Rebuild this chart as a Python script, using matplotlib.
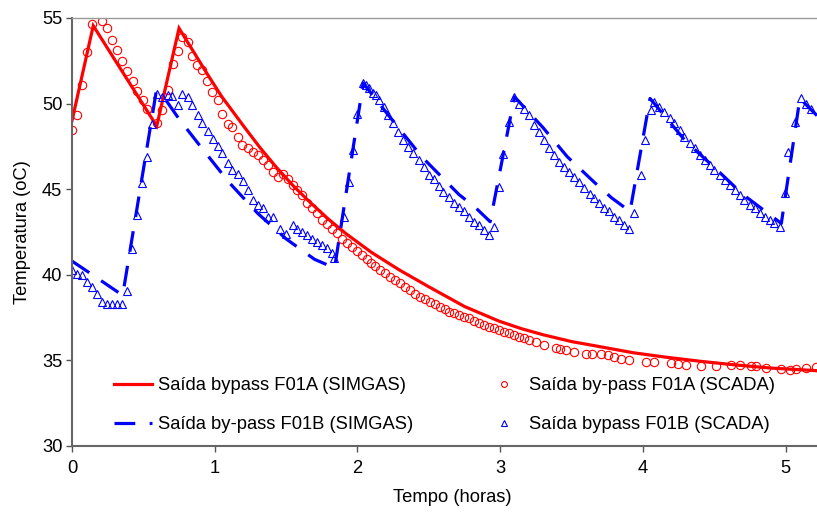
import matplotlib
matplotlib.use("Agg")
import matplotlib.pyplot as plt

plt.rcParams['font.family'] = ['Liberation Sans', 'DejaVu Sans']

# Saída bypass F01A - simulação (SIMGAS)
t_a_sim = [0.0, 0.149, 0.57, 0.594, 0.75, 0.85, 0.95, 1.05, 1.21, 1.32, 1.43, 1.55, 1.66,
           1.79, 1.92, 2.1, 2.29, 2.5, 2.75, 2.99, 3.15, 3.3, 3.5, 3.7, 3.93, 4.15, 4.4,
           4.63, 4.9, 5.22]
T_a_sim = [49.0, 54.55, 49.0, 48.7, 54.4, 53.05, 51.7, 50.4, 48.6, 47.4, 46.3, 45.2, 44.3,
           43.3, 42.4, 41.3, 40.3, 39.3, 38.15, 37.3, 36.85, 36.5, 36.1, 35.8, 35.45, 35.2, 34.95,
           34.75, 34.55, 34.4]

# Saída by-pass F01A - medido (SCADA)
t_a_scada = [0.0, 0.037, 0.068, 0.105, 0.138, 0.208, 0.243, 0.283, 0.318, 0.353, 0.386,
             0.425, 0.454, 0.496, 0.524, 0.594, 0.63, 0.67, 0.706, 0.74, 0.77, 0.81, 0.84,
             0.875, 0.91, 0.945, 0.98, 1.02, 1.054, 1.09, 1.12, 1.16, 1.19, 1.23, 1.265,
             1.30, 1.335, 1.37, 1.405, 1.44, 1.475, 1.51, 1.545, 1.58, 1.615, 1.65, 1.685,
             1.72, 1.755, 1.79, 1.825, 1.86, 1.895, 1.93, 1.965, 2.0, 2.035, 2.065, 2.095,
             2.125, 2.155, 2.19, 2.225, 2.26, 2.295, 2.33, 2.365, 2.4, 2.435, 2.47, 2.505,
             2.54, 2.575, 2.61, 2.645, 2.68, 2.715, 2.75, 2.785, 2.82, 2.855, 2.89, 2.925,
             2.96, 2.995, 3.03, 3.065, 3.1, 3.135, 3.17, 3.205, 3.25, 3.31, 3.39, 3.42,
             3.46, 3.52, 3.6, 3.64, 3.71, 3.755, 3.8, 3.85, 3.906, 4.02, 4.08, 4.2, 4.245,
             4.3, 4.41, 4.51, 4.62, 4.68, 4.76, 4.79, 4.86, 4.97, 5.03, 5.07, 5.14, 5.21]
T_a_scada = [48.46, 49.35, 51.1, 53.0, 54.65, 54.85, 54.4, 53.7, 53.15, 52.5, 51.9,
             51.3, 50.75, 50.2, 49.7, 48.85, 49.6, 50.8, 52.3, 53.1, 53.9, 53.6, 52.8,
             52.25, 51.96, 51.3, 50.7, 50.2, 49.4, 48.8, 48.65, 48.07, 47.6, 47.4, 47.2,
             47.0, 46.7, 46.4, 46.0, 45.7, 45.9, 45.6, 45.25, 44.95, 44.66, 44.2, 43.9,
             43.6, 43.2, 42.97, 42.7, 42.46, 42.1, 41.85, 41.6, 41.4, 41.15, 40.9, 40.7,
             40.5, 40.3, 40.1, 39.9, 39.7, 39.5, 39.3, 39.1, 38.9, 38.72, 38.58, 38.43,
             38.28, 38.14, 38.0, 37.85, 37.75, 37.65, 37.55, 37.46, 37.3, 37.17, 37.07, 36.97,
             36.88, 36.78, 36.68, 36.58, 36.48, 36.38, 36.3, 36.2, 36.05, 35.9, 35.7, 35.65,
             35.6, 35.5, 35.4, 35.4, 35.35, 35.3, 35.2, 35.1, 35.0, 34.93, 34.9, 34.83, 34.79,
             34.73, 34.67, 34.67, 34.73, 34.73, 34.7, 34.67, 34.54, 34.48, 34.44, 34.48, 34.57, 34.63]

# Saída by-pass F01B - simulação (SIMGAS)
t_b_sim = [0.0, 0.143, 0.355, 0.59, 0.65, 0.75, 0.9, 1.1, 1.3, 1.5, 1.7, 1.84,
           2.04, 2.2, 2.45, 2.71, 2.83, 2.93, 3.1, 3.3, 3.47, 3.66, 3.78, 3.91,
           4.05, 4.3, 4.51, 4.7, 4.97, 5.1, 5.22]
T_b_sim = [40.8, 40.0, 38.8, 50.7, 50.3, 49.1, 47.5, 45.4, 43.6, 42.1, 40.9, 40.4,
           51.2, 49.5, 46.9, 44.7, 43.9, 43.1, 50.4, 48.6, 46.9, 45.4, 44.5, 43.7,
           50.3, 47.8, 46.2, 44.7, 43.0, 50.3, 49.3]

# Saída bypass F01B - medido (SCADA)
t_b_scada = [0.0, 0.033, 0.068, 0.103, 0.138, 0.178, 0.213, 0.243, 0.278, 0.313, 0.353,
             0.383, 0.423, 0.454, 0.493, 0.528, 0.563, 0.594, 0.63, 0.67, 0.7, 0.74, 0.774,
             0.81, 0.844, 0.88, 0.914, 0.95, 0.987, 1.02, 1.054, 1.09, 1.124, 1.16, 1.195,
             1.23, 1.265, 1.3, 1.335, 1.37, 1.41, 1.46, 1.5, 1.545, 1.58, 1.615, 1.65, 1.685,
             1.72, 1.755, 1.79, 1.825, 1.837, 1.907, 1.94, 1.97, 2.0, 2.036, 2.06, 2.083,
             2.106, 2.13, 2.153, 2.183, 2.216, 2.25, 2.286, 2.32, 2.356, 2.39, 2.43, 2.464,
             2.5, 2.534, 2.57, 2.6, 2.64, 2.674, 2.71, 2.744, 2.78, 2.814, 2.85, 2.884, 2.924,
             2.96, 2.99, 3.022, 3.065, 3.1, 3.135, 3.17, 3.205, 3.24, 3.275, 3.31, 3.345,
             3.38, 3.415, 3.45, 3.485, 3.52, 3.555, 3.59, 3.626, 3.66, 3.696, 3.73, 3.766,
             3.8, 3.836, 3.87, 3.906, 3.94, 3.988, 4.015, 4.058, 4.08, 4.116, 4.15, 4.187,
             4.22, 4.257, 4.29, 4.327, 4.362, 4.397, 4.432, 4.467, 4.5, 4.537, 4.572, 4.607,
             4.642, 4.677, 4.712, 4.748, 4.783, 4.818, 4.853, 4.888, 4.92, 4.958, 4.993,
             5.016, 5.063, 5.11, 5.14, 5.18]
T_b_scada = [40.28, 40.05, 40.0, 39.6, 39.3, 38.9, 38.43, 38.3, 38.3, 38.3, 38.3,
             39.05, 41.5, 43.5, 45.35, 46.86, 48.8, 50.56, 50.4, 50.5, 50.46, 49.94, 50.56,
             50.4, 49.94, 49.35, 48.87, 48.4, 47.93, 47.55, 47.1, 46.55, 46.1, 45.9, 45.5,
             44.95, 44.37, 44.08, 43.9, 43.4, 43.4, 42.7, 42.4, 42.9, 42.7, 42.5, 42.3, 42.1,
             41.9, 41.74, 41.55, 41.26, 40.96, 43.4, 45.4, 47.3, 49.4, 51.2, 51.1, 50.9,
             50.6, 50.5, 50.2, 49.8, 49.33, 48.85, 48.36, 47.87, 47.45, 47.1, 46.7, 46.28,
             45.83, 45.58, 45.2, 44.85, 44.53, 44.2, 43.94, 43.7, 43.4, 43.1, 42.9, 42.6, 42.3,
             42.8, 45.1, 47.04, 48.94, 50.4, 50.0, 49.67, 49.33, 48.75, 48.36, 47.87, 47.39,
             47.0, 46.6, 46.3, 46.0, 45.73, 45.44, 45.05, 44.7, 44.47, 44.18, 43.88, 43.7,
             43.4, 43.2, 42.9, 42.66, 43.6, 45.85, 47.87, 49.6, 50.1, 49.82, 49.53, 49.14,
             48.85, 48.46, 48.07, 47.68, 47.39, 47.0, 46.7, 46.4, 46.12, 45.83, 45.54, 45.25,
             44.95, 44.66, 44.37, 44.08, 43.88, 43.6, 43.4, 43.2, 43.0, 42.8, 44.76,
             47.2, 48.94, 50.3, 50.0, 49.7]

x_ticks = [0, 1, 2, 3, 4, 5]
y_ticks = [30, 35, 40, 45, 50, 55]

fig = plt.figure(figsize=(8.17, 5.12), dpi=100)
ax = fig.add_axes([72 / 817, 66 / 512, 745 / 817, 428 / 512])

red = '#FF0000'
blue = '#0000FF'

l_a_sim, = ax.plot(t_a_sim, T_a_sim, color=red, lw=2.3, solid_joinstyle='miter')
l_b_sim, = ax.plot(t_b_sim, T_b_sim, color=blue, lw=2.3, dashes=(6.5, 4.5))
l_a_scada, = ax.plot(t_a_scada, T_a_scada, ls='none', marker='o', ms=6,
                     mfc='none', mec=red, mew=0.8)
l_b_scada, = ax.plot(t_b_scada, T_b_scada, ls='none', marker='^', ms=6,
                     mfc='none', mec=blue, mew=0.8)

ax.set_xlim(0, 5.22)
ax.set_ylim(30, 55)
ax.set_xticks(x_ticks)
ax.set_yticks(y_ticks)
ax.tick_params(direction='out', length=4, width=1, colors='#555555',
               labelcolor='black', labelsize=13.2, pad=3)
ax.tick_params(axis='x', pad=6)

for side in ['left', 'bottom']:
    ax.spines[side].set_color('#666666')
    ax.spines[side].set_linewidth(1.5)
ax.spines['top'].set_color('#999999')
ax.spines['top'].set_linewidth(1.0)
ax.spines['right'].set_visible(False)

ax.set_xlabel('Tempo (horas)', fontsize=13.2)
ax.xaxis.set_label_coords((452 - 72) / 745, -0.1)
ax.set_ylabel('Temperatura (oC)', fontsize=13.2, labelpad=8)

leg = ax.legend([l_a_sim, l_b_sim, l_a_scada, l_b_scada],
                ['Saída bypass F01A (SIMGAS)', 'Saída by-pass F01B (SIMGAS)',
                 'Saída by-pass F01A (SCADA)', 'Saída bypass F01B (SCADA)'],
                ncol=2, frameon=False, fontsize=13.2, loc='center left',
                bbox_to_anchor=(0.056, 0.095), borderpad=0, borderaxespad=0,
                handlelength=2.07, handletextpad=0.33, columnspacing=3.95,
                labelspacing=1.2, markerscale=0.7)

fig.savefig('out.png', dpi=100)
